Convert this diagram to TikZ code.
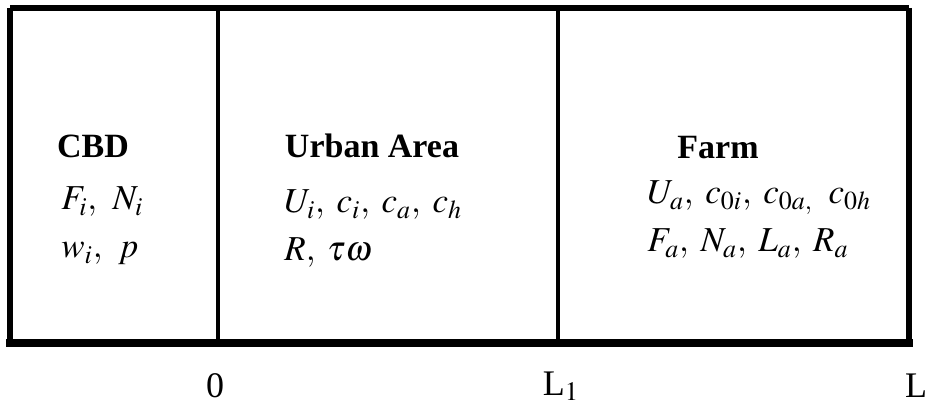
\documentclass[tikz,border=0pt]{standalone}
\usepackage{mathptmx}
\usepackage{fontspec}
\setmainfont{Liberation Serif}
\usetikzlibrary{calc}

\tikzset{
  zone/.style={font=\fontsize{17}{20}\selectfont\bfseries},
  vars/.style={anchor=west,inner sep=0pt,font=\fontsize{17.5}{20}\selectfont},
  tick/.style={font=\fontsize{18}{21}\selectfont}
}

\begin{document}
\begin{tikzpicture}[x=0.5pt,y=-0.5pt]
  \useasboundingbox (0,0) rectangle (928,406);
  % frame of the three zones
  \coordinate (NW) at (10,8);
  \coordinate (NE) at (909,8);
  \coordinate (SW) at (10,343);
  \coordinate (SE) at (909,343);
  \draw[line width=2.6pt] (NW) -- (NE);
  \draw[line width=3pt] (NW) -- (SW);
  \draw[line width=3pt] (NE) -- (SE);
  \draw[line width=4pt] ($(SW)+(-4,0)$) -- ($(SE)+(4,0)$);
  \coordinate (D1) at (218,8);
  \coordinate (D2) at (558,8);
  \draw[line width=2pt] (D1) -- (D1 |- SW);
  \draw[line width=2pt] (D2) -- (D2 |- SW);
  % zone titles
  \node[zone] (cbd) at (93,146) {CBD};
  \node[zone] (urban) at (372,146) {Urban Area};
  \node[zone] (farm) at (718,148) {Farm};
  % variables
  \node[vars] (Vcbd) at (61,226) {
    $\begin{array}{@{}l@{}}
      F_i,\;\, N_i\\[4pt]
      w_i,\;\, p
    \end{array}$};
  \node[vars] (Vurban) at (284,229) {
    $\begin{array}{@{}l@{}}
      U_i,\; c_i,\; c_a,\; c_h\\[4pt]
      R,\; \tau\omega
    \end{array}$};
  \node[vars] (Vfarm) at (647,220) {
    $\begin{array}{@{}l@{}}
      U_a,\; c_{0i},\; c_{0a,}\;\; c_{0h}\\[4pt]
      F_a,\; N_a,\; L_a,\; R_a
    \end{array}$};
  % distance marks
  \node[tick] (x0) at (215,386) {0};
  \node[tick] (xL1) at (561,386) {L$_1$};
  \node[tick] (xL) at (916,386) {L};
\end{tikzpicture}
\end{document}
